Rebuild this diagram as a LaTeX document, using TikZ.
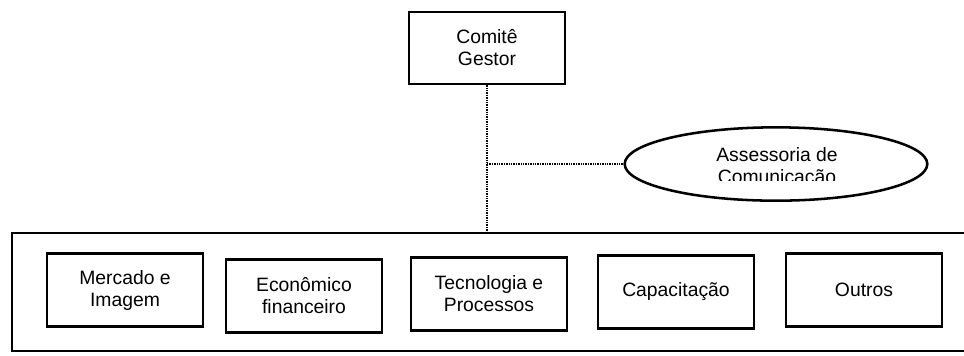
\documentclass[tikz,border=0pt]{standalone}
\usepackage{fontspec}
\setmainfont{Liberation Sans}
\usepackage{tikz}
\usetikzlibrary{positioning,shapes.geometric}
\tikzset{%
	caixa/.style   = {draw, rectangle, line width=1.9pt, minimum width=117pt, minimum height=55pt, align=center, inner sep=0pt},
	elipse/.style  = {draw, ellipse, line width=1.9pt, minimum width=227pt, minimum height=55pt, inner sep=0pt},
	painel/.style  = {draw, rectangle, line width=1.9pt, minimum width=726pt, minimum height=88.5pt, inner sep=0pt},
	ligacao/.style = {line width=1.4pt, dash pattern=on 1pt off 0.8pt},
}

\begin{document}
\begin{tikzpicture}[x=0.75pt,y=-0.75pt,font=\fontsize{14.5}{16.5}\selectfont]
		\clip (0,0) rectangle (964,355);
		% topo
		\node[caixa, minimum height=54pt] (gestor) at (487,48) {Comit\^e\\Gestor};
		\node[elipse] (assess) at (776,164) {};
		\begin{scope}
			\clip (690,130) rectangle (870,180);
			\node[align=center] (assesstxt) at (777,168) {Assessoria de\\Comunica\c{c}\~ao};
		\end{scope}
		% grupos
		\node[painel] (grupos) at (496,292) {};
		\node[caixa] (mercado) at (125,290) {Mercado e\\Imagem};
		\node[caixa] (economico) at (304,296) {Econ\^omico\\financeiro};
		\node[caixa] (tecnologia) at (489,294) {Tecnologia e\\Processos};
		\node[caixa] (capacitacao) at (676,292) {Capacita\c{c}\~ao};
		\node[caixa] (outros) at (864,290) {Outros};
		% ligacoes
		\coordinate (juncao) at (gestor.south |- assess.west);
		\draw[ligacao] (gestor.south) -- (gestor.south |- grupos.north);
		\draw[ligacao] (juncao) -- (assess.west);
	\end{tikzpicture}
\end{document}
